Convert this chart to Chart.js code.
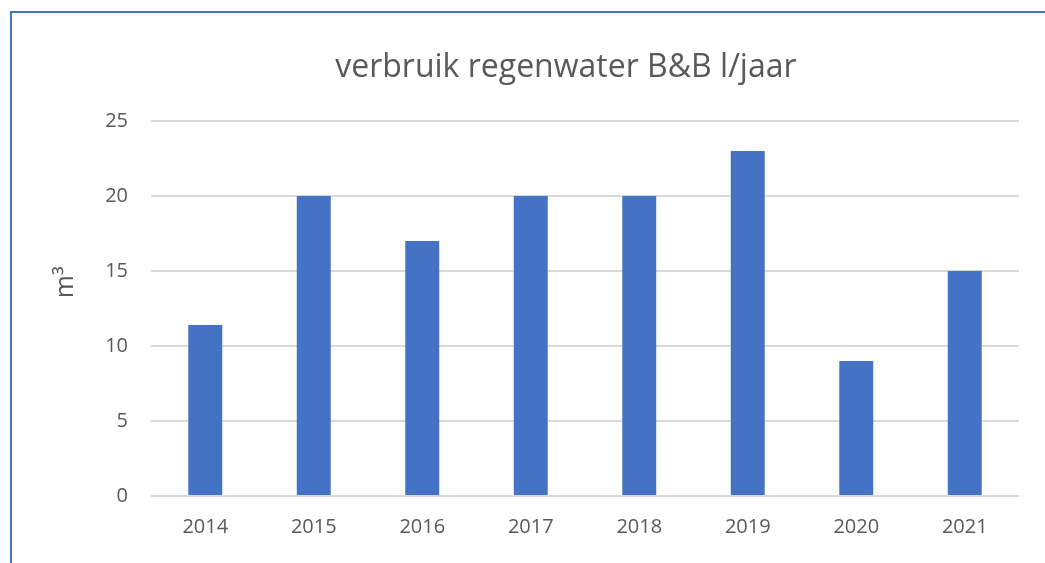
<!DOCTYPE html>
<html>
<head>
<meta charset="utf-8">
<script src="https://cdn.jsdelivr.net/npm/chart.js@4/dist/chart.umd.min.js"></script>
<style>
  html, body { margin: 0; padding: 0; background: #fff; }
  #kader {
    position: absolute; left: 10px; top: 11px; width: 1035px; height: 552px;
    border-left: 2px solid #4472c4; border-top: 2px solid #4472c4; box-sizing: border-box;
  }
  #wrap { position: absolute; left: 0; top: 0; width: 1045px; height: 563px; }
</style>
</head>
<body>
<div id="kader"></div>
<div id="wrap"><canvas id="grafiek"></canvas></div>
<script>
// gegevens
const jaren = ["2014", "2015", "2016", "2017", "2018", "2019", "2020", "2021"];
const verbruik = [11.4, 20, 17, 20, 20, 23, 9, 15];
const titel = "verbruik regenwater B&B l/jaar";
const asTitel = "m³";

const tekstKleur = "#595959";
const letter = "'Open Sans', 'Noto Sans', sans-serif";

// titel iets links van het midden, en de astitel iets boven het midden (zoals in Excel)
const titelPlugin = {
    id: "kopTitel",
    afterDraw(chart) {
        const ctx = chart.ctx;
        const area = chart.chartArea;
        ctx.save();
        ctx.fillStyle = tekstKleur;
        ctx.textAlign = "center";
        ctx.textBaseline = "middle";
        ctx.font = "32px " + letter;
        ctx.fillText(titel, area.left + area.width * 0.478, 68);

        ctx.font = "25px " + letter;
        ctx.translate(66, area.top + area.height * 0.43);
        ctx.rotate(-Math.PI / 2);
        ctx.fillText(asTitel, 0, 0);
        ctx.restore();
    }
};

new Chart(document.getElementById("grafiek"), {
    type: "bar",
    data: {
        labels: jaren,
        datasets: [{
            data: verbruik,
            backgroundColor: "#4472c4",
            barPercentage: 0.313,
            categoryPercentage: 1
        }]
    },
    options: {
        responsive: true,
        maintainAspectRatio: false,
        animation: false,
        layout: { padding: { top: 121, right: 26, bottom: 0, left: 0 } },
        plugins: {
            legend: { display: false },
            title: { display: false },
            tooltip: { enabled: false }
        },
        scales: {
            x: {
                grid: { display: false, drawTicks: false },
                border: { display: false },
                ticks: { color: tekstKleur, font: { family: letter, size: 20 }, padding: 19 },
                afterFit: (s) => { s.height = 67; }
            },
            y: {
                min: 0,
                max: 25,
                grid: { color: "#d9d9d9", lineWidth: 2, drawTicks: false },
                border: { display: false },
                ticks: { stepSize: 5, color: tekstKleur, font: { family: letter, size: 20 }, padding: 23 },
                afterFit: (s) => { s.width = 151; }
            }
        }
    },
    plugins: [titelPlugin]
});
</script>
</body>
</html>
